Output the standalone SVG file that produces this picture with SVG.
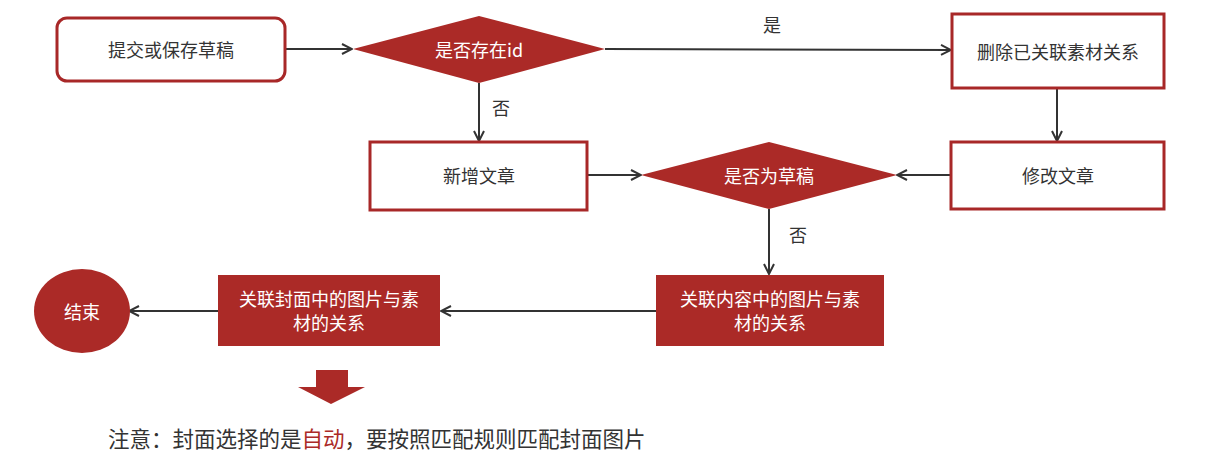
<svg xmlns="http://www.w3.org/2000/svg" width="1205" height="475" viewBox="0 0 1205 475">
<defs>
<marker id="arr" viewBox="0 0 12 12" refX="11" refY="6" markerWidth="12" markerHeight="12" markerUnits="userSpaceOnUse" orient="auto">
<path d="M1,1 L11,6 L1,11" fill="none" stroke="#333" stroke-width="2"/>
</marker>
<style>
.t{font-family:"Noto Sans CJK SC","Microsoft YaHei",sans-serif;font-size:18px;text-anchor:middle;dominant-baseline:central}
.dk{fill:#333}
.wh{fill:#fff}
.ob{fill:#fff;stroke:#a82828;stroke-width:3}
.fb{fill:#ab2a27}
.ln{fill:none;stroke:#333;stroke-width:2;marker-end:url(#arr)}
</style>
</defs>
<rect width="1205" height="475" fill="#fff"/>
<g id="connectors">
<line class="ln" x1="286" y1="49" x2="352" y2="49"/>
<line class="ln" x1="605" y1="49" x2="951" y2="50"/>
<line class="ln" x1="479" y1="83" x2="479" y2="141"/>
<line class="ln" x1="1057" y1="88" x2="1057" y2="141"/>
<line class="ln" x1="588" y1="175" x2="641" y2="175"/>
<line class="ln" x1="950" y1="175" x2="897" y2="175"/>
<line class="ln" x1="769" y1="209" x2="769" y2="274"/>
<line class="ln" x1="656" y1="311" x2="441" y2="311"/>
<line class="ln" x1="218" y1="311" x2="129" y2="311"/>
<text class="t dk" x="772" y="24">是</text>
<text class="t dk" x="501" y="107">否</text>
<text class="t dk" x="798" y="234">否</text>
</g>
<g id="start">
<rect class="ob" x="57" y="18" width="228" height="63" rx="10"/>
<text class="t dk" x="171" y="49">提交或保存草稿</text>
</g>
<g id="has-id">
<polygon class="fb" points="353,49 479,16 605,49 479,83"/>
<text class="t wh" x="479" y="49">是否存在id</text>
</g>
<g id="delete-rel">
<rect class="ob" x="952" y="14" width="212" height="74"/>
<text class="t dk" x="1058" y="51">删除已关联素材关系</text>
</g>
<g id="new-article">
<rect class="ob" x="370" y="142" width="217" height="68" stroke-width="2.5"/>
<text class="t dk" x="479" y="175">新增文章</text>
</g>
<g id="modify-article">
<rect class="ob" x="951" y="142" width="213" height="67"/>
<text class="t dk" x="1058" y="175">修改文章</text>
</g>
<g id="is-draft">
<polygon class="fb" points="641,175 769,142 897,175 769,209"/>
<text class="t wh" x="769" y="175">是否为草稿</text>
</g>
<g id="content-rel">
<rect class="fb" x="656" y="275" width="228" height="71"/>
<text class="t wh" x="770" y="298">关联内容中的图片与素</text>
<text class="t wh" x="770" y="322">材的关系</text>
</g>
<g id="cover-rel">
<rect class="fb" x="218" y="275" width="222" height="71"/>
<text class="t wh" x="329" y="298">关联封面中的图片与素</text>
<text class="t wh" x="329" y="322">材的关系</text>
</g>
<g id="end">
<ellipse class="fb" cx="82" cy="311" rx="48" ry="42"/>
<text class="t wh" x="82" y="311">结束</text>
</g>
<g id="note">
<polygon class="fb" points="316,370 348,370 348,387 365,387 331,404 298,387 316,387"/>
<text x="108" y="437" style="font-family:'Noto Sans CJK SC','Microsoft YaHei',sans-serif;font-size:21.5px;dominant-baseline:central" fill="#333">注意：封面选择的是<tspan fill="#ab2a27">自动</tspan>，要按照匹配规则匹配封面图片</text>
</g>
</svg>
